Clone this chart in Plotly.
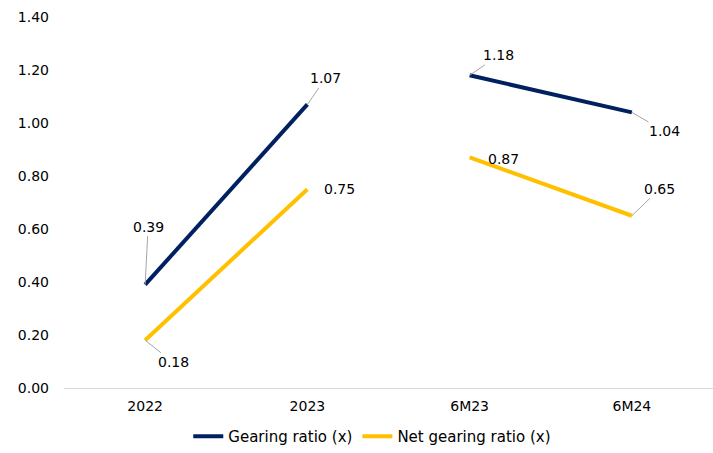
import plotly.graph_objects as go

categories = ["2022", "2023", "gap", "6M23", "6M24"]
tick_labels = ["2022", "2023", "6M23", "6M24"]
gearing = [0.39, 1.07, None, 1.18, 1.04]
net_gearing = [0.18, 0.75, None, 0.87, 0.65]

# Category positions (the gap between 2023 and 6M23 is a break in the lines)
xpos = [0, 1, 1.5, 2, 3]

NAVY = "#002060"
GOLD = "#FFC000"
FONT = "Verdana, DejaVu Sans, sans-serif"

fig = go.Figure()
fig.add_trace(go.Scatter(x=xpos, y=gearing, mode="lines", name="Gearing ratio (x)",
                         line=dict(color=NAVY, width=4, shape="spline"), connectgaps=False))
fig.add_trace(go.Scatter(x=xpos, y=net_gearing, mode="lines", name="Net gearing ratio (x)",
                         line=dict(color=GOLD, width=4, shape="spline"), connectgaps=False))

# label offsets (pixels) for each data label
g_off = [(3, -58, True), (18, -26, True), None, (29, -20, True), (33, 19, True)]
n_off = [(28, 22, True), (32, 0, False), None, (34, 2, False), (28, -27, True)]
for vals, offs in ((gearing, g_off), (net_gearing, n_off)):
    for xv, v, o in zip(xpos, vals, offs):
        if v is None:
            continue
        ax, ay, show_line = o
        fig.add_annotation(x=xv, y=v, xref="x", yref="y", text=f"{v:.2f}",
                           showarrow=True, arrowhead=0, arrowwidth=1,
                           arrowcolor="#a6a6a6" if show_line else "rgba(0,0,0,0)",
                           ax=ax, ay=ay, standoff=0,
                           font=dict(family=FONT, size=14, color="#000000"))

fig.update_layout(
    width=713, height=453,
    margin=dict(l=64, r=0, t=17, b=64),
    paper_bgcolor="white", plot_bgcolor="white",
    font=dict(family=FONT, size=14, color="#000000"),
    showlegend=True,
    legend=dict(orientation="h", x=0.475, xanchor="center", y=-0.132, yanchor="middle",
                font=dict(family=FONT, size=15), itemwidth=30, tracegroupgap=0),
    xaxis=dict(range=[-0.5, 3.5], tickmode="array", tickvals=[0, 1, 2, 3], ticktext=tick_labels,
               showgrid=False, zeroline=False, showline=False, ticks="", ticklabelstandoff=8),
    yaxis=dict(range=[0, 1.4], tickmode="array", tickvals=[0, 0.2, 0.4, 0.6, 0.8, 1.0, 1.2, 1.4],
               tickformat=".2f", showgrid=False, zeroline=True, zerolinecolor="#d9d9d9",
               zerolinewidth=1, showline=False, ticks="", ticklabelstandoff=14),
)

fig.write_html("out.html")
